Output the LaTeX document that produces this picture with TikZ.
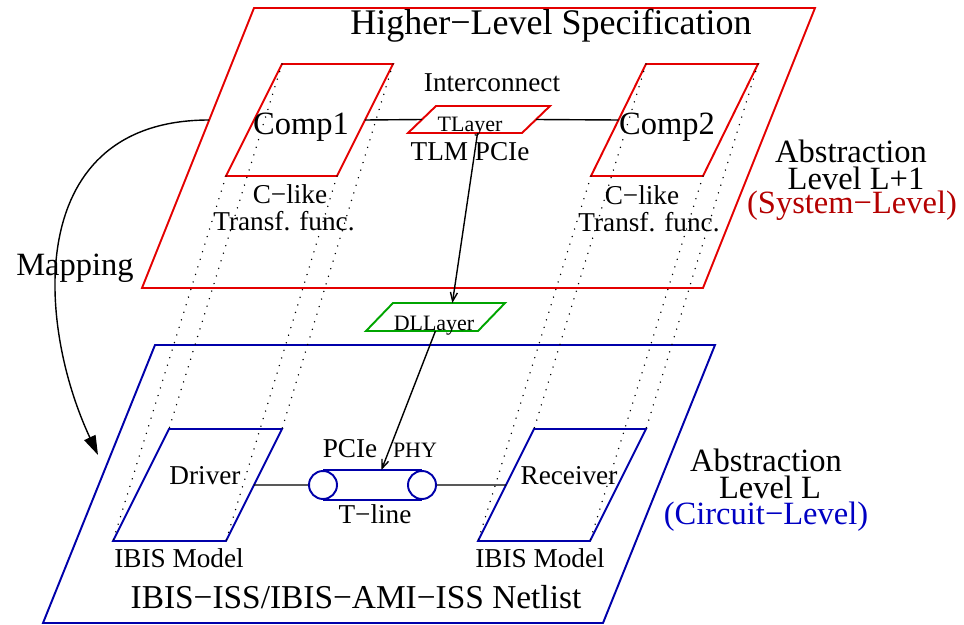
\documentclass[tikz,border=0pt]{standalone}
\usepackage{fontspec}
\setmainfont{Liberation Serif}
\usetikzlibrary{arrows.meta,calc}

\definecolor{syscol}{RGB}{228,0,0}
\definecolor{systxt}{RGB}{180,0,0}
\definecolor{circol}{RGB}{0,0,170}
\definecolor{cirtxt}{RGB}{0,0,195}
\definecolor{linkcol}{RGB}{0,165,0}

% slanted layer outline: name, style, bottom-left x, y, width, height, slant
\newcommand{\layerbox}[7]{%
  \coordinate (#1-bl) at (#3,#4);
  \coordinate (#1-br) at (#3+#5,#4);
  \coordinate (#1-tr) at (#3+#5+#7,#4-#6);
  \coordinate (#1-tl) at (#3+#7,#4-#6);
  \coordinate (#1-w) at ($(#1-bl)!0.5!(#1-tl)$);
  \coordinate (#1-e) at ($(#1-br)!0.5!(#1-tr)$);
  \draw[#2] (#1-bl) -- (#1-br) -- (#1-tr) -- (#1-tl) -- cycle;}

\begin{document}
\begin{tikzpicture}[x=0.02cm, y=-0.02cm,
  bigtxt/.style={font=\fontsize{18.5}{22}\selectfont, inner sep=0pt, anchor=base},
  midtxt/.style={font=\fontsize{15.5}{18}\selectfont, inner sep=0pt, anchor=base},
  smalltxt/.style={font=\fontsize{12.5}{15}\selectfont, inner sep=0pt, anchor=base},
  sysframe/.style={syscol, line width=1.1pt},
  cirframe/.style={circol, line width=1.1pt},
  proj/.style={line width=0.9pt, dash pattern=on 0.01pt off 4.5pt, line cap=round},
  wire/.style={line width=0.8pt},
  flow/.style={wire, -{Straight Barb[length=5pt,width=4pt]}}]
  \useasboundingbox (0,0) rectangle (964,625);

  % the two abstraction levels
  \layerbox{high}{sysframe}{142}{288}{561}{280}{112}
  \layerbox{low}{cirframe}{43}{623}{560}{278}{112}

  % components and their circuit counterparts
  \layerbox{comp1}{sysframe}{226}{176}{111}{112}{56}
  \layerbox{comp2}{sysframe}{591}{176}{112}{112}{55}
  \layerbox{drv}{cirframe}{113}{541}{113}{112}{56}
  \layerbox{rcv}{cirframe}{478}{541}{112}{112}{56}
  \layerbox{tlay}{sysframe}{408}{133}{114}{27}{28}
  \layerbox{dllay}{linkcol, line width=1.1pt}{366}{331}{112}{28}{27}

  \foreach \c in {bl,br,tr,tl} {
    \draw[proj] (comp1-\c) -- (drv-\c);
    \draw[proj] (comp2-\c) -- (rcv-\c);
  }

  % transmission line
  \node[draw=circol, line width=1.1pt, circle, minimum size=0.56cm, inner sep=0pt] (tube-l) at (323,485) {};
  \node[draw=circol, line width=1.1pt, circle, minimum size=0.56cm, inner sep=0pt] (tube-r) at (422,485) {};
  \draw[cirframe] (tube-l.north) -- (tube-r.north) (tube-l.south) -- (tube-r.south);

  % links
  \draw[wire] (comp1-e) -- (tlay-w);
  \draw[wire] (tlay-e) -- (comp2-w);
  \draw[wire] (drv-e) -- (tube-l);
  \draw[wire] (tube-r) -- (rcv-w);
  \draw[flow] ($(tlay-bl)!0.61!(tlay-br)$) -- ($(dllay-tl)!0.53!(dllay-tr)$);
  \draw[flow] ($(dllay-bl)!0.62!(dllay-br)$) -- ($(tube-l.north)!0.59!(tube-r.north)$);
  \coordinate (mapend) at (98,455);
  \draw[wire, -{Triangle[length=11pt,width=7pt]}] ($(high-bl)!0.6!(high-tl)$)
    .. controls (25,120) and (35,320) .. (mapend);

  % labels
  \node[bigtxt, font=\fontsize{20.5}{24}\selectfont] (spec) at (551,35) {Higher−Level Specification};
  \node[midtxt] (icn) at (492,92) {Interconnect};
  \node[smalltxt] (tlaytxt) at (470,132) {TLayer};
  \node[midtxt] (tlm) at (470,161) {TLM PCIe};
  \node[bigtxt] (c1txt) at (301,134) {Comp1};
  \node[bigtxt] (c2txt) at (667,134) {Comp2};
  \node[midtxt] (c1a) at (290,203) {C−like};
  \node[midtxt] (c1b) at (284,231) {Transf. func.};
  \node[midtxt] (c2a) at (642,204) {C−like};
  \node[midtxt] (c2b) at (649,232) {Transf. func.};
  \node[bigtxt] (absH1) at (851,163) {Abstraction};
  \node[bigtxt] (absH2) at (856,190) {Level L+1};
  \node[bigtxt, systxt] (absH3) at (852,214) {(System−Level)};
  \node[bigtxt] (mapt) at (75,275) {Mapping};
  \node[smalltxt] (dltxt) at (434,330) {DLLayer};
  \node[midtxt] (pcie) at (350,457) {PCIe};
  \node[smalltxt] (phy) at (415,457) {PHY};
  \node[midtxt] (tltxt) at (375,523) {T−line};
  \node[midtxt] (drvtxt) at (205,484) {Driver};
  \node[midtxt] (rcvtxt) at (569,484) {Receiver};
  \node[midtxt] (ibis1) at (179,567) {IBIS Model};
  \node[midtxt] (ibis2) at (540,567) {IBIS Model};
  \node[bigtxt] (absL1) at (766,471) {Abstraction};
  \node[bigtxt] (absL2) at (770,498) {Level L};
  \node[bigtxt, cirtxt] (absL3) at (766,524) {(Circuit−Level)};
  \node[bigtxt, font=\fontsize{19}{23}\selectfont] (netl) at (356,608) {IBIS−ISS/IBIS−AMI−ISS Netlist};
\end{tikzpicture}
\end{document}
